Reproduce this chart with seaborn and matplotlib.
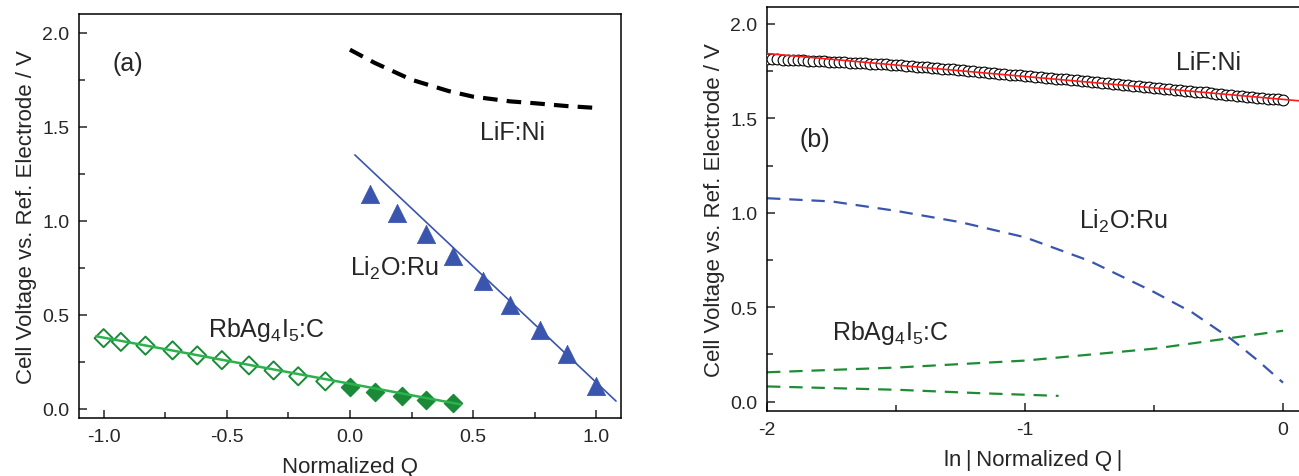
import numpy as np
import pandas as pd
import seaborn as sns
import matplotlib.pyplot as plt
from matplotlib.ticker import MultipleLocator

# ---- panel (a): voltage vs normalized Q ----
lif_a_q = [0.00, 0.10, 0.25, 0.40, 0.50, 0.65, 0.75, 0.88, 1.00]
lif_a_v = [1.91, 1.84, 1.75, 1.69, 1.66, 1.635, 1.625, 1.61, 1.60]

li2o_q = [0.08, 0.19, 0.31, 0.42, 0.54, 0.65, 0.77, 0.88, 1.00]
li2o_v = [1.14, 1.04, 0.93, 0.81, 0.68, 0.55, 0.42, 0.29, 0.12]
li2o_fit_q = [0.02, 1.08]
li2o_fit_v = [1.35, 0.04]

rb_open_q = [-1.00, -0.93, -0.83, -0.72, -0.62, -0.52, -0.41, -0.31, -0.21, -0.10]
rb_open_v = [0.375, 0.355, 0.335, 0.31, 0.283, 0.258, 0.23, 0.203, 0.172, 0.145]
rb_fill_q = [0.00, 0.10, 0.21, 0.31, 0.42]
rb_fill_v = [0.117, 0.088, 0.067, 0.048, 0.028]
rb_fit_q = [-1.03, 0.45]
rb_fit_v = [0.385, 0.022]

# ---- panel (b): voltage vs ln|normalized Q| ----
lif_b_x = [-2.00, -1.98, -1.96, -1.94, -1.92, -1.90, -1.88, -1.86, -1.84, -1.82,
           -1.80, -1.78, -1.76, -1.74, -1.72, -1.70, -1.68, -1.66, -1.64, -1.62,
           -1.60, -1.58, -1.56, -1.54, -1.52, -1.50, -1.48, -1.46, -1.44, -1.42,
           -1.40, -1.38, -1.36, -1.34, -1.32, -1.30, -1.28, -1.26, -1.24, -1.22,
           -1.20, -1.18, -1.16, -1.14, -1.12, -1.10, -1.08, -1.06, -1.04, -1.02,
           -1.00, -0.98, -0.96, -0.94, -0.92, -0.90, -0.88, -0.86, -0.84, -0.82,
           -0.80, -0.78, -0.76, -0.74, -0.72, -0.70, -0.68, -0.66, -0.64, -0.62,
           -0.60, -0.58, -0.56, -0.54, -0.52, -0.50, -0.48, -0.46, -0.44, -0.42,
           -0.40, -0.38, -0.36, -0.34, -0.32, -0.30, -0.28, -0.26, -0.24, -0.22,
           -0.20, -0.18, -0.16, -0.14, -0.12, -0.10, -0.08, -0.06, -0.04, -0.02,
           0.00]
lif_b_v = [1.815, 1.814, 1.813, 1.811, 1.810, 1.809, 1.808, 1.807, 1.805, 1.804,
           1.803, 1.802, 1.801, 1.799, 1.798, 1.797, 1.795, 1.794, 1.793, 1.791,
           1.790, 1.788, 1.787, 1.786, 1.784, 1.783, 1.781, 1.779, 1.776, 1.774,
           1.772, 1.770, 1.768, 1.765, 1.763, 1.761, 1.759, 1.756, 1.754, 1.751,
           1.749, 1.747, 1.744, 1.742, 1.739, 1.737, 1.735, 1.732, 1.730, 1.727,
           1.725, 1.723, 1.720, 1.718, 1.715, 1.713, 1.711, 1.708, 1.706, 1.703,
           1.701, 1.699, 1.696, 1.694, 1.691, 1.689, 1.686, 1.683, 1.681, 1.678,
           1.676, 1.673, 1.670, 1.668, 1.665, 1.663, 1.660, 1.657, 1.655, 1.652,
           1.650, 1.647, 1.644, 1.642, 1.639, 1.637, 1.634, 1.631, 1.629, 1.626,
           1.623, 1.621, 1.618, 1.615, 1.613, 1.610, 1.608, 1.605, 1.602, 1.600,
           1.597]
lif_fit_x = [-2.0, 0.07]
lif_fit_v = [1.843, 1.592]

li2o_b_x = [-2.0, -1.75, -1.5, -1.25, -1.0, -0.75, -0.5, -0.35, -0.2, -0.1, 0.0]
li2o_b_v = [1.077, 1.06, 1.01, 0.95, 0.87, 0.745, 0.58, 0.47, 0.33, 0.22, 0.10]

rb_up_x = [-2.0, -1.5, -1.0, -0.5, 0.0]
rb_up_v = [0.155, 0.18, 0.217, 0.28, 0.375]
rb_low_x = [-2.0, -1.49, -1.17, -0.87]
rb_low_v = [0.08, 0.062, 0.044, 0.030]

sns.set_style("ticks")
plt.rcParams['font.family'] = ['Liberation Sans', 'DejaVu Sans']
plt.rcParams['mathtext.default'] = 'regular'
plt.rcParams['axes.unicode_minus'] = False
plt.rcParams['xtick.direction'] = 'in'
plt.rcParams['ytick.direction'] = 'in'

blue = '#3a55ad'
green_m = '#1b8a38'
green_l = '#2bb24c'
green_d = '#1f8c35'

fig = plt.figure(figsize=(12.99, 4.77), dpi=100)
ax1 = fig.add_axes([0.0608, 0.1216, 0.4172, 0.847])
ax2 = fig.add_axes([0.5905, 0.1363, 0.4095, 0.8470])

# (a)
sns.lineplot(x=lif_a_q, y=lif_a_v, ax=ax1, color='black', lw=3,
             linestyle=(0, (3.5, 2.2)), sort=False, estimator=None)
sns.lineplot(x=li2o_fit_q, y=li2o_fit_v, ax=ax1, color=blue, lw=1.2,
             sort=False, estimator=None)
sns.scatterplot(x=li2o_q, y=li2o_v, ax=ax1, marker='^', s=175, color=blue,
                edgecolor=blue, linewidth=0.5, zorder=3)
sns.lineplot(x=rb_fit_q, y=rb_fit_v, ax=ax1, color=green_l, lw=1.8,
             sort=False, estimator=None, zorder=4)
sns.scatterplot(x=rb_open_q, y=rb_open_v, ax=ax1, marker='D', s=85,
                facecolor='none', edgecolor=green_m, linewidth=1.4, zorder=3)
sns.scatterplot(x=rb_fill_q, y=rb_fill_v, ax=ax1, marker='D', s=85,
                color=green_m, edgecolor=green_m, linewidth=1.0, zorder=3)

ax1.set_xlim(-1.1, 1.1)
ax1.set_ylim(-0.05, 2.1)
ax1.xaxis.set_major_locator(MultipleLocator(0.5))
ax1.xaxis.set_minor_locator(MultipleLocator(0.25))
ax1.yaxis.set_major_locator(MultipleLocator(0.5))
ax1.yaxis.set_minor_locator(MultipleLocator(0.25))
ax1.set_xlabel('Normalized Q', fontsize=16, labelpad=8)
ax1.set_ylabel('Cell Voltage vs. Ref. Electrode / V', fontsize=16)
ax1.text(-0.9, 1.84, '(a)', fontsize=18, ha='center', va='center')
ax1.text(0.66, 1.47, 'LiF:Ni', fontsize=18, ha='center', va='center')
ax1.text(0.18, 0.75, 'Li$_2$O:Ru', fontsize=18, ha='center', va='center')
ax1.text(-0.34, 0.425, 'RbAg$_4$I$_5$:C', fontsize=18, ha='center', va='center')

# (b)
sns.scatterplot(x=lif_b_x, y=lif_b_v, ax=ax2, marker='o', s=60,
                facecolor='white', edgecolor='black', linewidth=0.8, zorder=3)
sns.lineplot(x=lif_fit_x, y=lif_fit_v, ax=ax2, color='#ff1a1a', lw=1.2,
             sort=False, estimator=None, zorder=4)
sns.lineplot(x=li2o_b_x, y=li2o_b_v, ax=ax2, color=blue, lw=1.6,
             linestyle=(0, (6, 4)), sort=False, estimator=None)
sns.lineplot(x=rb_up_x, y=rb_up_v, ax=ax2, color=green_d, lw=1.6,
             linestyle=(0, (6, 4)), sort=False, estimator=None)
sns.lineplot(x=rb_low_x, y=rb_low_v, ax=ax2, color=green_d, lw=1.6,
             linestyle=(0, (6, 4)), sort=False, estimator=None)

ax2.set_xlim(-2.0, 0.062)
ax2.set_ylim(-0.05, 2.09)
ax2.xaxis.set_major_locator(MultipleLocator(1))
ax2.xaxis.set_minor_locator(MultipleLocator(0.5))
ax2.yaxis.set_major_locator(MultipleLocator(0.5))
ax2.yaxis.set_minor_locator(MultipleLocator(0.25))
ax2.set_xticks([-2, -1, 0])
ax2.set_xticklabels(['-2', '-1', '0'])
ax2.set_xlabel('ln\u2009|\u2009Normalized Q\u2009|', fontsize=16, labelpad=8)
ax2.set_ylabel('Cell Voltage vs. Ref. Electrode / V', fontsize=16)
ax2.spines['right'].set_visible(False)
ax2.text(-1.815, 1.39, '(b)', fontsize=18, ha='center', va='center')
ax2.text(-0.29, 1.80, 'LiF:Ni', fontsize=18, ha='center', va='center')
ax2.text(-0.62, 0.96, 'Li$_2$O:Ru', fontsize=18, ha='center', va='center')
ax2.text(-1.52, 0.37, 'RbAg$_4$I$_5$:C', fontsize=18, ha='center', va='center')

for ax in (ax1, ax2):
    for sp in ax.spines.values():
        sp.set_linewidth(1.1)
        sp.set_color('black')
    ax.tick_params(which='major', length=6, width=1.1, labelsize=14, pad=7)
    ax.tick_params(which='minor', length=4, width=1.1)
    ax.tick_params(axis='x', which='both', top=False)
    ax.tick_params(axis='y', which='both', right=False)

plt.savefig('out.png', dpi=100)
plt.close()
